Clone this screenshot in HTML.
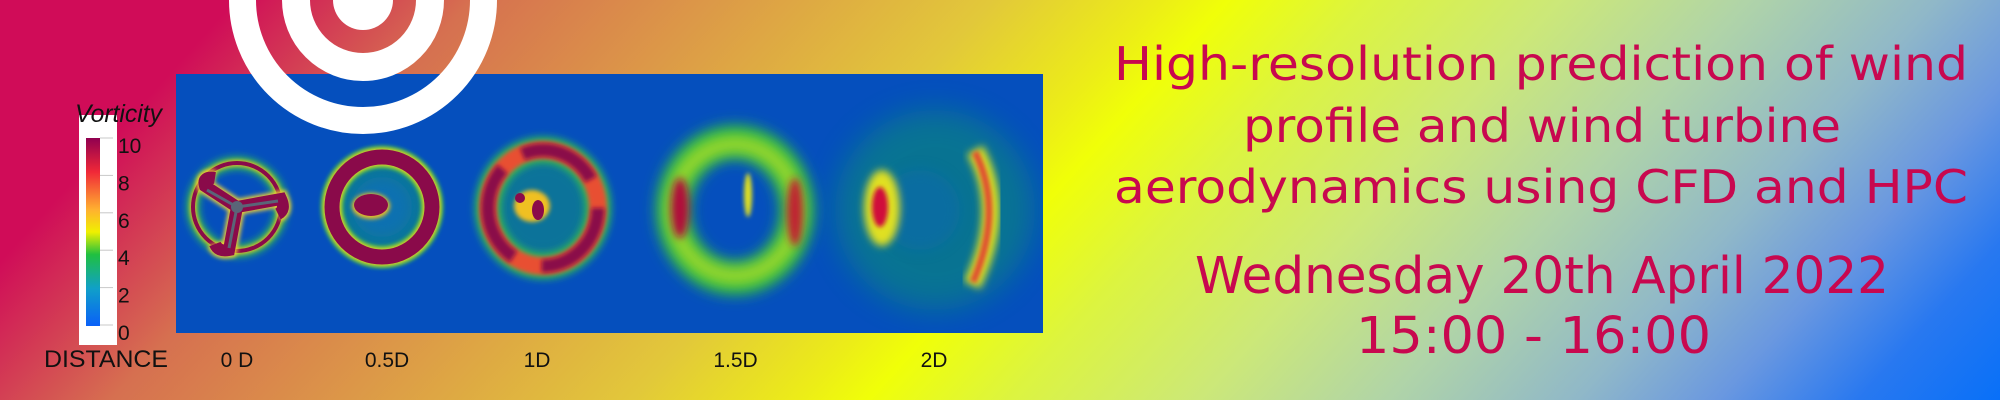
<!DOCTYPE html>
<html><head><meta charset="utf-8"><style>
html,body{margin:0;padding:0;width:2000px;height:400px;overflow:hidden}
svg{display:block}
</style></head><body>
<svg id="root" width="2000" height="400" viewBox="0 0 2000 400">
<defs>
<linearGradient id="bg" gradientUnits="userSpaceOnUse" x1="348" y1="-387" x2="1652" y2="787">
<stop offset="0.10" stop-color="#d00c58"/><stop offset="0.20" stop-color="#d67050"/>
<stop offset="0.30" stop-color="#dc9848"/><stop offset="0.42" stop-color="#e2c83a"/>
<stop offset="0.49" stop-color="#ecec18"/><stop offset="0.52" stop-color="#f0ff08"/>
<stop offset="0.58" stop-color="#dcf440"/><stop offset="0.66" stop-color="#cce878"/>
<stop offset="0.74" stop-color="#b0d4a8"/><stop offset="0.82" stop-color="#90b8c8"/>
<stop offset="0.88" stop-color="#6a98e0"/><stop offset="0.94" stop-color="#2878f0"/>
<stop offset="1" stop-color="#0870f8"/></linearGradient>
<linearGradient id="cbar" x1="0" y1="1" x2="0" y2="0">
<stop offset="0" stop-color="#0a60f8"/><stop offset="0.2" stop-color="#10a0c8"/>
<stop offset="0.38" stop-color="#20c040"/><stop offset="0.5" stop-color="#f0f000"/>
<stop offset="0.62" stop-color="#ffb030"/><stop offset="0.82" stop-color="#f02838"/>
<stop offset="1" stop-color="#900050"/></linearGradient>
<filter id="b2" x="-50%" y="-50%" width="200%" height="200%"><feGaussianBlur stdDeviation="2"/></filter>
<filter id="b4" x="-50%" y="-50%" width="200%" height="200%"><feGaussianBlur stdDeviation="4"/></filter>
<filter id="b7" x="-50%" y="-50%" width="200%" height="200%"><feGaussianBlur stdDeviation="7"/></filter>
<filter id="b15" x="-50%" y="-50%" width="200%" height="200%"><feGaussianBlur stdDeviation="15"/></filter>
<clipPath id="pclip"><rect x="176" y="74" width="867" height="259"/></clipPath>
</defs>
<rect x="0" y="0" width="2000" height="400" fill="url(#bg)"/>

<g>
<rect x="176" y="74" width="867" height="259" fill="#054fbd"/>
<g clip-path="url(#pclip)">
<g>
<circle cx="237" cy="207" r="44" fill="none" stroke="#30c050" stroke-width="12" filter="url(#b4)"/>
<circle cx="237" cy="207" r="44" fill="none" stroke="#f0c020" stroke-width="6" filter="url(#b2)"/>
<circle cx="237" cy="207" r="44" fill="none" stroke="#8a0a4a" stroke-width="4"/>
<path d="M237,207 L205,186 Q202,176 215,178 M237,207 L281,199 Q286,210 278,214 M237,207 L229,250 Q218,252 215,244" stroke="#f0d030" stroke-width="16" fill="none" filter="url(#b2)"/>
<path d="M237,207 L205,186 Q202,176 215,178 M237,207 L281,199 Q286,210 278,214 M237,207 L229,250 Q218,252 215,244" stroke="#8a0a4a" stroke-width="12" fill="none"/>
<path d="M237,207 L207,190 M237,207 L278,201 M237,207 L229,248" stroke="#5a6578" stroke-width="3" fill="none"/>
<circle cx="237" cy="207" r="6" fill="#5a6578"/>
</g>
<g>
<circle cx="382" cy="207" r="45" fill="#18a070" opacity="0.5" filter="url(#b7)"/>
<circle cx="382" cy="207" r="30" fill="#1070b8" opacity="0.8" filter="url(#b7)"/>
<circle cx="382" cy="207" r="50" fill="none" stroke="#30c050" stroke-width="22" filter="url(#b2)"/>
<circle cx="382" cy="207" r="50" fill="none" stroke="#f0d020" stroke-width="18" filter="url(#b2)"/>
<circle cx="382" cy="207" r="50" fill="none" stroke="#8a0a4a" stroke-width="15"/>
<ellipse cx="371" cy="206" rx="19" ry="13" fill="#f0c020" filter="url(#b2)"/>
<ellipse cx="371" cy="205" rx="17" ry="11" fill="#8a0a4a"/>
</g>
<g>
<circle cx="543" cy="208" r="50" fill="#18a070" opacity="0.45" filter="url(#b7)"/>
<ellipse cx="543" cy="208" rx="55" ry="58" fill="none" stroke="#30c050" stroke-width="26" filter="url(#b4)"/>
<ellipse cx="543" cy="208" rx="55" ry="58" fill="none" stroke="#e85030" stroke-width="18" filter="url(#b2)"/>
<ellipse cx="543" cy="208" rx="55" ry="58" fill="none" stroke="#8a0a4a" stroke-width="13" stroke-dasharray="90 30 100 25 80 30" filter="url(#b2)"/>
<ellipse cx="532" cy="206" rx="18" ry="16" fill="#f0c020" filter="url(#b2)"/>
<circle cx="520" cy="198" r="5" fill="#8a0a4a"/><ellipse cx="538" cy="210" rx="6" ry="10" fill="#8a0a4a"/>
</g>
<g>
<ellipse cx="735" cy="210" rx="62" ry="68" fill="none" stroke="#30c040" stroke-width="34" filter="url(#b7)"/>
<ellipse cx="735" cy="210" rx="62" ry="66" fill="none" stroke="#c8e020" stroke-width="14" filter="url(#b7)" opacity="0.8"/>
<ellipse cx="680" cy="208" rx="9" ry="30" fill="#b0103a" filter="url(#b4)"/>
<ellipse cx="795" cy="212" rx="8" ry="34" fill="#c02030" filter="url(#b4)"/>
<ellipse cx="748" cy="195" rx="4" ry="22" fill="#e0e020" filter="url(#b2)"/>
</g>
<g>
<circle cx="935" cy="210" r="100" fill="#10a060" opacity="0.45" filter="url(#b15)"/>
<circle cx="920" cy="210" r="40" fill="#0868b0" opacity="0.5" filter="url(#b7)"/>
<ellipse cx="882" cy="208" rx="18" ry="38" fill="#e0e020" filter="url(#b4)"/>
<ellipse cx="880" cy="207" rx="8" ry="20" fill="#d0103a" filter="url(#b2)"/>
<path d="M975,150 Q1008,210 972,285" stroke="#d8e020" stroke-width="18" fill="none" filter="url(#b4)"/>
<path d="M975,152 Q1004,210 973,282" stroke="#e05030" stroke-width="7" fill="none" filter="url(#b2)"/>
</g>
</g>
</g>

<g>
<circle cx="363" cy="0" r="120.5" fill="none" stroke="#fff" stroke-width="27"/>
<circle cx="363" cy="0" r="67" fill="none" stroke="#fff" stroke-width="28"/>
<circle cx="363" cy="0" r="30" fill="#fff"/>
</g>

<g id="colorbar">
<rect x="79" y="115" width="38" height="230" fill="#fff"/>
<rect x="86" y="138" width="14" height="188" fill="url(#cbar)"/>
<text x="75" y="122" font-family="Liberation Sans, sans-serif" font-size="25" font-style="italic" fill="#111" textLength="87" lengthAdjust="spacingAndGlyphs">Vorticity</text>
</g>

<g id="dist">
<text x="44" y="367" font-family="Liberation Sans, sans-serif" font-size="24" fill="#111" textLength="124" lengthAdjust="spacingAndGlyphs">DISTANCE</text>
</g>

<g font-family="DejaVu Sans, sans-serif" fill="#c8084f">
<text x="1114" y="80" font-size="46" textLength="854" lengthAdjust="spacingAndGlyphs">High-resolution prediction of wind</text>
<text x="1243" y="142" font-size="46" textLength="598" lengthAdjust="spacingAndGlyphs">profile and wind turbine</text>
<text x="1114" y="203" font-size="46" textLength="854" lengthAdjust="spacingAndGlyphs">aerodynamics using CFD and HPC</text>
<text x="1195" y="293" font-size="51" textLength="694" lengthAdjust="spacingAndGlyphs">Wednesday 20th April 2022</text>
<text x="1356" y="353" font-size="51" textLength="355" lengthAdjust="spacingAndGlyphs">15:00 - 16:00</text>
</g>
</svg>
<script>
const tickValues = [0, 2, 4, 6, 8, 10];
const tickLabels = ["0", "2", "4", "6", "8", "10"];
const distanceLabels = ["0 D", "0.5D", "1D", "1.5D", "2D"];
const distanceValues = [0, 0.5, 1, 1.5, 2];
const NS = "http://www.w3.org/2000/svg";
function yScale(v){ return 325 - (v/10)*(325-138); }
function xDist(d){ return d <= 1 ? 237 + d*300 : 537 + (d-1)*397; }
const cb = document.getElementById('colorbar');
tickValues.forEach((v,i)=>{
  const y = yScale(v);
  const ln = document.createElementNS(NS,'line');
  ln.setAttribute('x1',100); ln.setAttribute('x2',113);
  ln.setAttribute('y1',y); ln.setAttribute('y2',y);
  ln.setAttribute('stroke','#c8c8c8'); ln.setAttribute('stroke-width','1');
  
  
  cb.appendChild(ln);
  const t = document.createElementNS(NS,'text');
  t.setAttribute('x',118); t.setAttribute('y',y+15);
  t.setAttribute('font-family','Liberation Sans, sans-serif');
  t.setAttribute('font-size','21'); t.setAttribute('fill','#111');
  t.textContent = tickLabels[i];
  
  
  cb.appendChild(t);
});
const dg = document.getElementById('dist');
distanceValues.forEach((d,i)=>{
  const t = document.createElementNS(NS,'text');
  t.setAttribute('x',xDist(d)); t.setAttribute('y',367);
  t.setAttribute('text-anchor','middle');
  t.setAttribute('font-family','Liberation Sans, sans-serif');
  t.setAttribute('font-size','21'); t.setAttribute('fill','#111');
  t.textContent = distanceLabels[i];
  
  
  dg.appendChild(t);
});
</script>
</body></html>
